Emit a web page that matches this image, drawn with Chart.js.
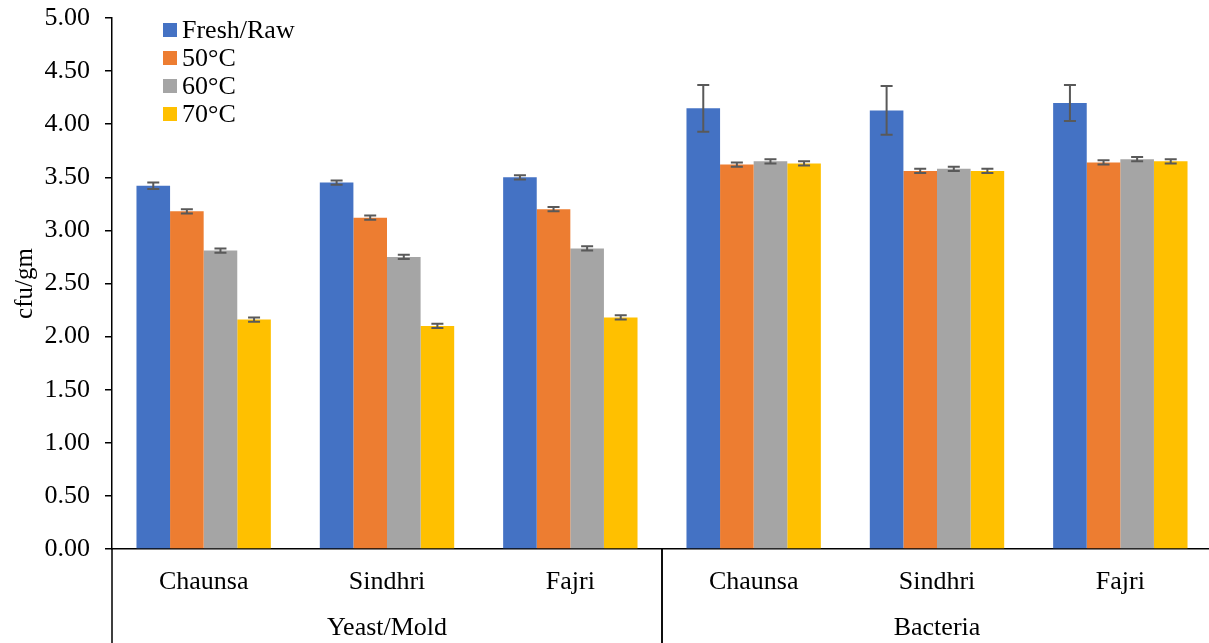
<!DOCTYPE html>
<html>
<head>
<meta charset="utf-8">
<script src="https://cdn.jsdelivr.net/npm/chart.js@4.4.1/dist/chart.umd.min.js"></script>
<style>
  html, body { margin: 0; padding: 0; overflow: hidden; background: #fff; }
  #wrap { width: 1212px; height: 643px; position: relative; }
</style>
</head>
<body>
<div id="wrap"><canvas id="chart"></canvas></div>
<script>
// Variety labels along the x axis, and the two microbe groups beneath them
const categories = ['Chaunsa', 'Sindhri', 'Fajri', 'Chaunsa', 'Sindhri', 'Fajri'];
const groups = ['Yeast/Mold', 'Bacteria'];
const groupSize = 3;

// Counts (cfu/gm) per treatment
const freshRaw = [3.42, 3.45, 3.50, 4.15, 4.13, 4.20];
const temp50 = [3.18, 3.12, 3.20, 3.62, 3.56, 3.64];
const temp60 = [2.81, 2.75, 2.83, 3.65, 3.58, 3.67];
const temp70 = [2.16, 2.10, 2.18, 3.63, 3.56, 3.65];

// Error bar half-widths
const freshRawErr = [0.03, 0.02, 0.02, 0.22, 0.23, 0.17];
const temp50Err = [0.02, 0.02, 0.02, 0.02, 0.02, 0.02];
const temp60Err = [0.02, 0.02, 0.02, 0.02, 0.02, 0.02];
const temp70Err = [0.02, 0.02, 0.02, 0.02, 0.02, 0.02];

const seriesNames = ['Fresh/Raw', '50\u00B0C', '60\u00B0C', '70\u00B0C'];
const yTicks = [0, 0.5, 1, 1.5, 2, 2.5, 3, 3.5, 4, 4.5, 5];

const FONT = "'Liberation Serif', 'Times New Roman', serif";
const colors = ['#4472C4', '#ED7D31', '#A5A5A5', '#FFC000'];

const errorBars = {
  id: 'errorBars',
  afterDatasetsDraw(chart) {
    const ctx = chart.ctx;
    const y = chart.scales.y;
    ctx.save();
    ctx.strokeStyle = '#595959';
    ctx.lineWidth = 2;
    chart.data.datasets.forEach((ds, i) => {
      const meta = chart.getDatasetMeta(i);
      meta.data.forEach((bar, j) => {
        const v = ds.data[j], e = ds.errors[j];
        const top = y.getPixelForValue(v + e);
        const bot = y.getPixelForValue(v - e);
        ctx.beginPath();
        ctx.moveTo(bar.x, top); ctx.lineTo(bar.x, bot);
        ctx.moveTo(bar.x - 6, top); ctx.lineTo(bar.x + 6, top);
        ctx.moveTo(bar.x - 6, bot); ctx.lineTo(bar.x + 6, bot);
        ctx.stroke();
      });
    });
    ctx.restore();
  }
};

const insetLegend = {
  id: 'insetLegend',
  afterDraw(chart) {
    const ctx = chart.ctx;
    ctx.save();
    ctx.font = '26px ' + FONT;
    ctx.textBaseline = 'middle';
    chart.data.datasets.forEach((ds, i) => {
      const cy = 30 + i * 28;
      ctx.fillStyle = ds.backgroundColor;
      ctx.fillRect(163, cy - 7, 14, 14);
      ctx.fillStyle = '#000';
      ctx.fillText(ds.label, 182, cy + 1);
    });
    ctx.restore();
  }
};

const groupAxis = {
  id: 'groupAxis',
  afterDraw(chart) {
    const ctx = chart.ctx;
    const x = chart.scales.x;
    const area = chart.chartArea;
    const H = chart.height;
    const step = (x.getPixelForValue(1) - x.getPixelForValue(0));
    ctx.save();
    ctx.strokeStyle = '#000';
    ctx.lineWidth = 1.5;
    ctx.font = '26px ' + FONT;
    ctx.textAlign = 'center';
    ctx.textBaseline = 'middle';
    ctx.fillStyle = '#000';
    groups.forEach((g, gi) => {
      const first = gi * groupSize;
      const left = x.getPixelForValue(first) - step / 2;
      const right = x.getPixelForValue(first + groupSize - 1) + step / 2;
      ctx.beginPath();
      ctx.moveTo(left, area.bottom); ctx.lineTo(left, H);
      ctx.moveTo(right, area.bottom); ctx.lineTo(right, H);
      ctx.stroke();
      ctx.fillText(g, (left + right) / 2, 628);
    });
    ctx.restore();
  }
};

new Chart(document.getElementById('chart'), {
  type: 'bar',
  data: {
    labels: categories,
    datasets: [
      { label: seriesNames[0], data: freshRaw, errors: freshRawErr, backgroundColor: colors[0] },
      { label: seriesNames[1], data: temp50, errors: temp50Err, backgroundColor: colors[1] },
      { label: seriesNames[2], data: temp60, errors: temp60Err, backgroundColor: colors[2] },
      { label: seriesNames[3], data: temp70, errors: temp70Err, backgroundColor: colors[3] }
    ]
  },
  options: {
    responsive: true,
    maintainAspectRatio: false,
    animation: false,
    layout: { padding: { top: 18, left: 0, right: 0, bottom: 0 } },
    datasets: { bar: { categoryPercentage: 0.733, barPercentage: 1.0 } },
    plugins: { legend: { display: false }, tooltip: { enabled: false } },
    scales: {
      x: {
        grid: { display: false },
        border: { color: '#000', width: 1.5 },
        ticks: { color: '#000', font: { family: FONT, size: 26 }, padding: 10, maxRotation: 0 },
        afterFit(scale) { scale.height = 94; scale.paddingLeft = 0; scale.paddingRight = 0; }
      },
      y: {
        min: 0, max: 5,
        afterBuildTicks(scale) { scale.ticks = yTicks.map(v => ({ value: v })); },
        grid: { drawOnChartArea: false, drawTicks: true, tickLength: 7, color: '#000', lineWidth: 1.5 },
        border: { color: '#000', width: 1.5 },
        ticks: { color: '#000', font: { family: FONT, size: 26 }, padding: 15,
                 callback: v => Number(v).toFixed(2) },
        title: { display: true, text: 'cfu/gm', color: '#000', font: { family: FONT, size: 25 },
                 padding: { top: 10, bottom: 0 } },
        afterFit(scale) { scale.width = 112; scale.paddingTop = 0; scale.paddingBottom = 0; }
      }
    }
  },
  plugins: [errorBars, insetLegend, groupAxis]
});
</script>
</body>
</html>
